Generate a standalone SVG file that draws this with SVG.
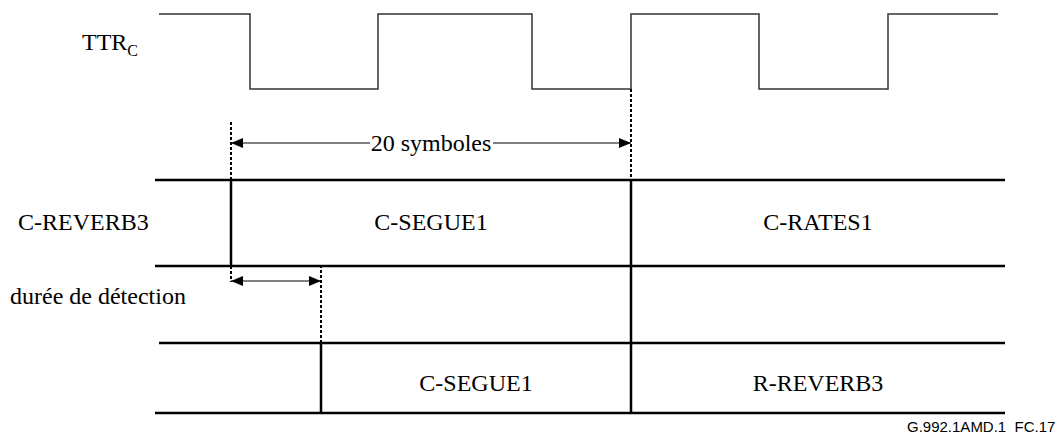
<svg xmlns="http://www.w3.org/2000/svg" width="1061" height="438" viewBox="0 0 1061 438">
<style>
.t{font-family:'Liberation Serif','Times New Roman',serif;font-size:24px;fill:#000}
.f{font-family:'Liberation Sans',Arial,sans-serif;font-size:15px;fill:#000}
.w{fill:none;stroke:#333;stroke-width:1.5}
.h{stroke:#000;stroke-width:2.5;fill:none}
.d{stroke:#000;stroke-width:2;stroke-dasharray:3,2;fill:none}
.a{stroke:#000;stroke-width:1.2;fill:none}
</style>
<defs>
<marker id="ah" markerWidth="12" markerHeight="10" refX="12" refY="5" orient="auto-start-reverse" markerUnits="userSpaceOnUse">
<path d="M0,0 L12,5 L0,10 Z" fill="#000"/>
</marker>
</defs>
<g id="ttr-wave">
<path class="w" d="M159,14 H250 V89 H378 V14 H532 V89 H631 V14 H759 V89 H888 V14 H998"/>
<text class="t" x="82" y="50">TTR<tspan font-size="16" dy="6">C</tspan></text>
</g>
<g id="lanes">
<line class="h" x1="155" y1="180" x2="1005" y2="180"/>
<line class="h" x1="155" y1="266" x2="1005" y2="266"/>
<line class="h" x1="159" y1="343" x2="1005" y2="343"/>
<line class="h" x1="155" y1="413" x2="1005" y2="413"/>
</g>
<g id="connectors">
<line class="d" x1="231" y1="122" x2="231" y2="180"/>
<line class="h" x1="231" y1="180" x2="231" y2="266"/>
<line class="d" x1="231" y1="266" x2="231" y2="282"/>
<line class="d" x1="631" y1="89" x2="631" y2="180"/>
<line class="h" x1="631" y1="180" x2="631" y2="413"/>
<line class="d" x1="321" y1="265" x2="321" y2="343"/>
<line class="h" x1="321" y1="343" x2="321" y2="413"/>
<line class="a" x1="231" y1="143" x2="370" y2="143" marker-start="url(#ah)"/>
<line class="a" x1="493" y1="143" x2="631" y2="143" marker-end="url(#ah)"/>
<line class="a" x1="231" y1="281" x2="321" y2="281" marker-start="url(#ah)" marker-end="url(#ah)"/>
</g>
<g id="labels">
<text class="t" x="431" y="151" text-anchor="middle">20 symboles</text>
<text class="t" x="18" y="230">C-REVERB3</text>
<text class="t" x="431" y="230" text-anchor="middle">C-SEGUE1</text>
<text class="t" x="818" y="230" text-anchor="middle">C-RATES1</text>
<text class="t" x="10" y="304">durée de détection</text>
<text class="t" x="476" y="391" text-anchor="middle">C-SEGUE1</text>
<text class="t" x="818" y="391" text-anchor="middle">R-REVERB3</text>
<text class="f" x="907" y="432" xml:space="preserve">G.992.1AMD.1  FC.17</text>
</g>
</svg>
